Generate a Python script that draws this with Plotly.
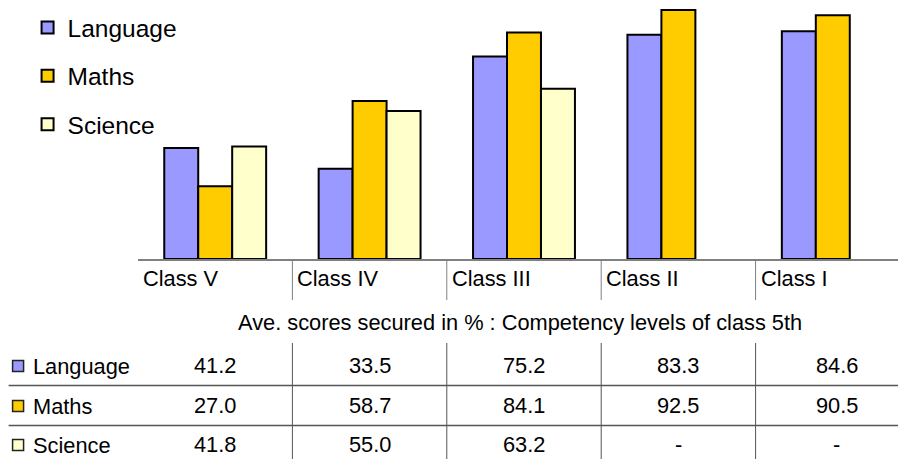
import plotly.graph_objects as go

categories = ["Class V", "Class IV", "Class III", "Class II", "Class I"]
language = [41.2, 33.5, 75.2, 83.3, 84.6]
maths = [27.0, 58.7, 84.1, 92.5, 90.5]
science = [41.8, 55.0, 63.2, None, None]
series_names = ["Language", "Maths", "Science"]
colors = ["#9999FF", "#FFCC00", "#FFFFCC"]
title_text = "Ave. scores secured in % : Competency levels of class 5th"

W, H = 898, 459
L = 137.5
PH = 259
PW = W - L
CAT_W = 154.5
n = len(categories)
xmax = -0.5 + PW / CAT_W
FONT = "Liberation Sans, Arial, sans-serif"
FS = 21.8


def px_x(px):
    return (px - L) / PW


def px_y(py):
    return (PH - py) / PH


fig = go.Figure()
for i, (name, vals) in enumerate(zip(series_names, [language, maths, science])):
    fig.add_trace(go.Bar(
        x=list(range(n)), y=vals, name=name,
        marker=dict(color=colors[i], line=dict(color="black", width=2)),
        legendgroup=name,
    ))

shapes = []
annotations = []
for k in range(1, n):
    xp = k * CAT_W / PW
    shapes.append(dict(type="line", xref="paper", yref="paper", x0=xp, x1=xp,
                       y0=px_y(259), y1=px_y(300), line=dict(color="#808080", width=1)))
    shapes.append(dict(type="line", xref="paper", yref="paper", x0=xp, x1=xp,
                       y0=px_y(343), y1=px_y(459), line=dict(color="#555555", width=1)))
for py in [385.5, 425.5]:
    shapes.append(dict(type="line", xref="paper", yref="paper", x0=px_x(8), x1=1,
                       y0=px_y(py), y1=px_y(py), line=dict(color="#555555", width=1.5)))

for i, c in enumerate(categories):
    annotations.append(dict(x=i - 0.5, y=px_y(278), xref="x", yref="paper", text=c,
                            showarrow=False, xanchor="left", yanchor="middle", xshift=3,
                            font=dict(size=FS, color="black", family=FONT)))

annotations.append(dict(x=px_x(520), y=px_y(322), xref="paper", yref="paper", text=title_text,
                        showarrow=False, xanchor="center", yanchor="middle",
                        font=dict(size=FS, color="black", family=FONT)))

row_y = [366, 406, 445]
for r, (name, vals) in enumerate(zip(series_names, [language, maths, science])):
    yc = row_y[r]
    shapes.append(dict(type="rect", xref="paper", yref="paper",
                       x0=px_x(12), x1=px_x(23), y0=px_y(yc - 5.5), y1=px_y(yc + 5.5),
                       fillcolor=colors[r], line=dict(color="#222222", width=1.5)))
    annotations.append(dict(x=px_x(30), y=px_y(yc), xref="paper", yref="paper", text=name,
                            showarrow=False, xanchor="left", yanchor="middle",
                            font=dict(size=FS, color="black", family=FONT)))
    for i, v in enumerate(vals):
        annotations.append(dict(x=i, y=px_y(yc - 1), xref="x", yref="paper",
                                text=("-" if v is None else f"{v:.1f}"),
                                showarrow=False, xanchor="center", yanchor="middle",
                                xshift=(4 if i == n - 1 else 0),
                                font=dict(size=FS, color="black", family=FONT)))

fig.update_layout(
    width=W, height=H,
    margin=dict(l=L, r=0, t=0, b=H - PH, autoexpand=False),
    paper_bgcolor="white", plot_bgcolor="white",
    barmode="group", bargap=0.34, bargroupgap=0,
    showlegend=True,
    legend=dict(x=px_x(27), y=px_y(5), xref="paper", yref="paper", xanchor="left", yanchor="top",
                font=dict(size=24.5, color="black", family=FONT),
                tracegroupgap=13.5, bgcolor="rgba(0,0,0,0)", itemclick=False),
    xaxis=dict(range=[-0.5, xmax], showticklabels=False, showgrid=False, zeroline=False,
               showline=True, linecolor="#808080", linewidth=1.5, ticks=""),
    yaxis=dict(range=[0, PH / 2.692], visible=False, showgrid=False, zeroline=False),
    shapes=shapes, annotations=annotations,
    font=dict(family=FONT),
)

fig.write_html("out.html")
